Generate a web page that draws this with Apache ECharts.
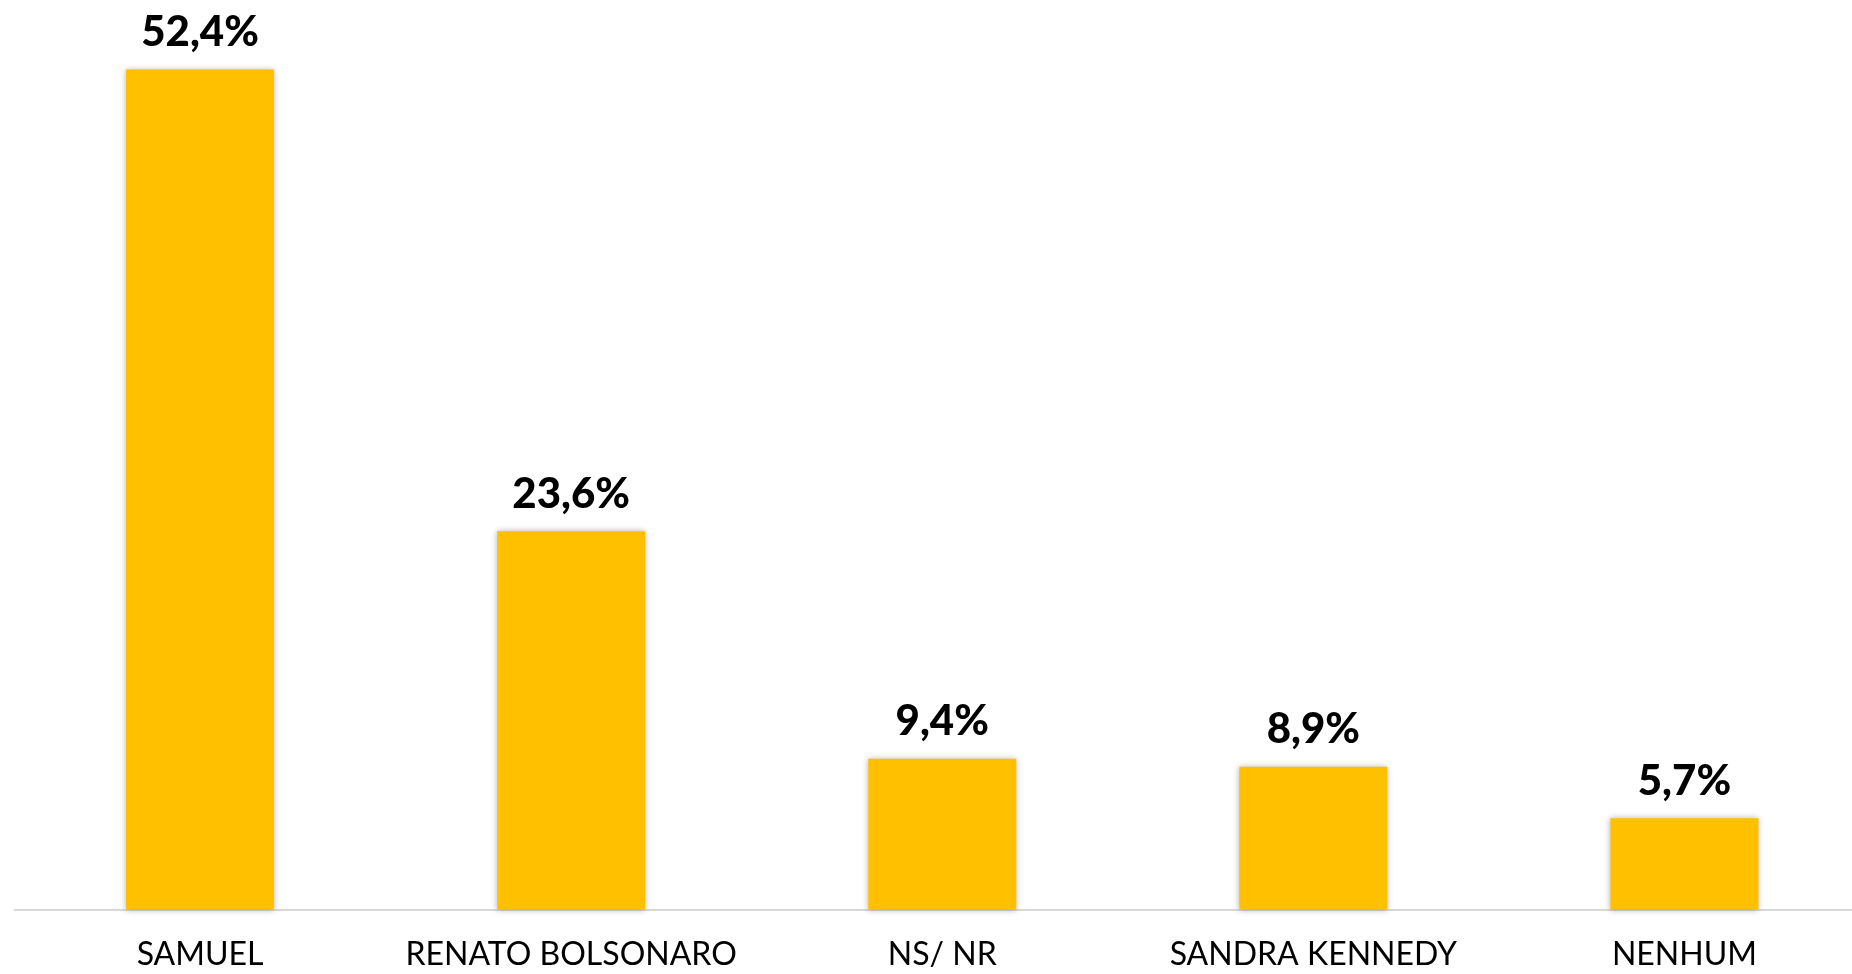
<!DOCTYPE html>
<html><head><meta charset="utf-8">
<script src="https://cdn.jsdelivr.net/npm/echarts@6/dist/echarts.min.js"></script>
<style>html,body{margin:0;padding:0;background:#fff}#c{width:1852px;height:974px}</style>
</head><body><div id="c"></div>
<script>
const categories = ["SAMUEL", "RENATO BOLSONARO", "NS/ NR", "SANDRA KENNEDY", "NENHUM"];
const values = [52.4, 23.6, 9.4, 8.9, 5.7];
const labels = ["52,4%", "23,6%", "9,4%", "8,9%", "5,7%"];

const chart = echarts.init(document.getElementById('c'));
chart.setOption({
  animation: false,
  grid: { left: 14.5, right: -18, top: 0, bottom: 64.5, containLabel: false, outerBoundsMode: 'none' },
  xAxis: {
    type: 'category', data: categories,
    axisTick: { show: false },
    axisLine: { lineStyle: { color: '#D9D9D9', width: 2 } },
    axisLabel: { color: '#000', fontFamily: 'Lato', fontSize: 32, margin: 29, interval: 0 }
  },
  yAxis: { type: 'value', min: 0, max: 56.74, show: false, splitLine: { show: false } },
  series: [{
    type: 'bar', data: values, barWidth: 148,
    itemStyle: { color: '#FFC000', shadowColor: 'rgba(0,0,0,0.3)', shadowBlur: 6, shadowOffsetX: 0, shadowOffsetY: 0 },
    label: {
      show: true, position: 'top', distance: 16,
      formatter: p => labels[p.dataIndex],
      color: '#000', fontFamily: 'Lato', fontWeight: 900, fontSize: 42
    }
  }]
});
</script></body></html>
